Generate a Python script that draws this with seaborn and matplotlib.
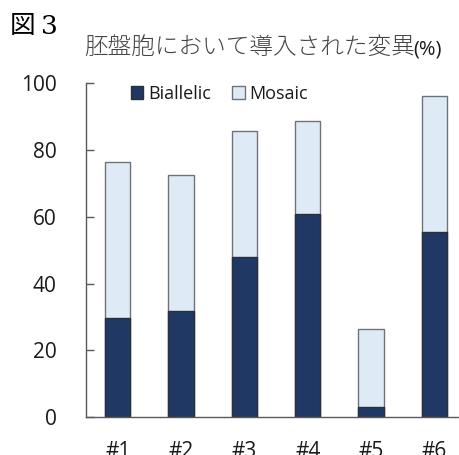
import matplotlib
matplotlib.use("Agg")
import matplotlib.pyplot as plt
from matplotlib.patches import Patch
import pandas as pd
import seaborn as sns

# Embryo groups and the share of blastocysts carrying each mutation type (%)
groups = ["#1", "#2", "#3", "#4", "#5", "#6"]
biallelic = [29.6, 31.8, 47.9, 60.9, 2.9, 55.4]
mosaic = [46.7, 40.7, 37.7, 27.7, 23.5, 40.8]
yticks = [0, 20, 40, 60, 80, 100]

DARK = "#203864"
LIGHT = "#DEEBF7"
EDGE = "#6f7378"

df = pd.DataFrame({"group": groups, "Biallelic": biallelic, "Mosaic": mosaic})
df["total"] = df["Biallelic"] + df["Mosaic"]

sns.set_theme(style="white")
plt.rcParams["font.family"] = ["Open Sans", "Noto Sans CJK JP", "DejaVu Sans"]

fig = plt.figure(figsize=(4.59, 4.55), dpi=100)
ax = fig.add_axes([0.1874, 0.0835, 0.828, 0.7334])

# stacked bars: full height (mosaic on top) first, then biallelic part over it
sns.barplot(data=df, x="group", y="total", color=LIGHT, width=0.4,
            edgecolor=EDGE, linewidth=1.0, saturation=1, ax=ax)
sns.barplot(data=df, x="group", y="Biallelic", color=DARK, width=0.4,
            edgecolor="#2a2f3a", linewidth=1.0, saturation=1, ax=ax)

ax.set_xlim(-0.5, 5.5)
ax.set_ylim(0, 100)
ax.set_yticks(yticks)
ax.set_xlabel("")
ax.set_ylabel("")
for side in ("top", "right"):
    ax.spines[side].set_visible(False)
for side in ("left", "bottom"):
    ax.spines[side].set_color("#595959")
    ax.spines[side].set_linewidth(1.0)

ax.tick_params(axis="y", direction="in", length=6, width=1.0, color="#595959",
               pad=21, labelsize=15, labelcolor="#1a1a1a", left=True)
ax.tick_params(axis="x", length=0, pad=17, labelsize=15, labelcolor="#1a1a1a")

handles = [Patch(facecolor=DARK, edgecolor="#2a2f3a", label="Biallelic"),
           Patch(facecolor=LIGHT, edgecolor=EDGE, label="Mosaic")]
ax.legend(handles=handles, loc="upper left", bbox_to_anchor=(0.075, 1.045),
          ncol=2, frameon=False, fontsize=13, handlelength=0.7,
          handleheight=0.7, handletextpad=0.25, columnspacing=1.2,
          labelcolor="#1a1a1a")

fig.text(10 / 459, 1 - 26 / 455, "図", fontsize=18.5, va="center", ha="left",
         family=["Noto Sans CJK JP"], color="black")
fig.text(41 / 459, 1 - 26 / 455, "3", fontsize=19, va="center", ha="left",
         family=["DejaVu Serif"], color="black")
fig.text(84 / 459, 1 - 48 / 455, "胚盤胞において導入された変異", fontsize=17,
         va="center", ha="left", family=["Noto Sans CJK JP"], color="#444444",
         fontweight="light")
fig.text(413 / 459, 1 - 49 / 455, "(%)", fontsize=14.5, va="center", ha="left",
         family=["Open Sans", "DejaVu Sans"], color="#1a1a1a")

fig.savefig("out.png", dpi=100)
